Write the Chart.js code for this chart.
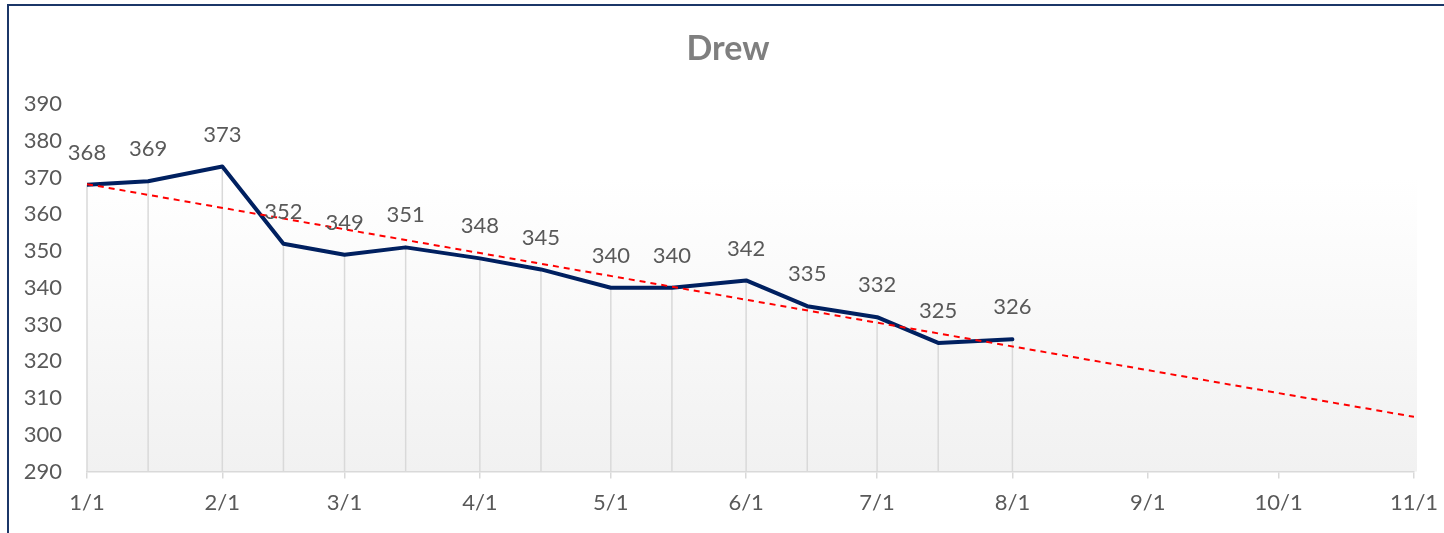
<!DOCTYPE html>
<html>
<head>
<meta charset="utf-8">
<script src="https://cdn.jsdelivr.net/npm/chart.js@4.4.1/dist/chart.umd.min.js"></script>
<style>
  html, body { margin: 0; padding: 0; background: #fff; overflow: hidden; }
  #wrap { position: relative; width: 1444px; height: 533px; }
  #frame {
    position: absolute; left: 7px; top: 4px; width: 1444px; height: 527px;
    border-top: 2px solid #1b3668; border-left: 2px solid #1b3668;
    border-bottom: 1px solid #e3e3e3; pointer-events: none;
  }
  canvas { position: absolute; left: 0; top: 0; }
</style>
</head>
<body>
<div id="wrap">
  <canvas id="weightChart" width="1444" height="533"></canvas>
  <div id="frame"></div>
</div>
<script>
// day-of-year offsets from 1/1, and the month tick labels
const monthDays = [0, 31, 59, 90, 120, 151, 181, 212, 243, 273, 304];
const monthLabels = ['1/1', '2/1', '3/1', '4/1', '5/1', '6/1', '7/1', '8/1', '9/1', '10/1', '11/1'];

// weigh-ins (1st and 15th of each month)
const pointDays = [0, 14, 31, 45, 59, 73, 90, 104, 120, 134, 151, 165, 181, 195, 212];
const weights = [368, 369, 373, 352, 349, 351, 348, 345, 340, 340, 342, 335, 332, 325, 326];

// linear trendline ends
const trendDays = [0, 304];
const trendValues = [368.2, 304.9];

const chartTitle = 'Drew';
const FONT = 'Lato, "Open Sans", sans-serif';

// title drawn by hand so it can sit off-centre like the original
const titleText = {
    id: 'titleText',
    afterDraw(chart) {
        const { ctx } = chart;
        ctx.save();
        ctx.font = 'bold 34px ' + FONT;
        ctx.fillStyle = '#7f7f7f';
        ctx.textAlign = 'center';
        ctx.textBaseline = 'middle';
        ctx.fillText(chartTitle, chart.width / 2 + 6, 49);
        ctx.restore();
    }
};

const plotBackground = {
    id: 'plotBackground',
    beforeDraw(chart) {
        const { ctx, chartArea: a } = chart;
        const g = ctx.createLinearGradient(0, a.top, 0, a.bottom);
        g.addColorStop(0, '#ffffff');
        g.addColorStop(0.2, '#ffffff');
        g.addColorStop(1, '#f1f1f1');
        ctx.save();
        ctx.fillStyle = g;
        ctx.fillRect(a.left, a.top, a.right - a.left + 3, a.bottom - a.top);
        ctx.restore();
    }
};

const dropLines = {
    id: 'dropLines',
    beforeDatasetsDraw(chart) {
        const { ctx, chartArea: a } = chart;
        const meta = chart.getDatasetMeta(0);
        ctx.save();
        ctx.strokeStyle = '#d9d9d9';
        ctx.lineWidth = 1.5;
        meta.data.forEach(pt => {
            ctx.beginPath();
            ctx.moveTo(pt.x, pt.y);
            ctx.lineTo(pt.x, a.bottom);
            ctx.stroke();
        });
        ctx.restore();
    }
};

const pointLabels = {
    id: 'pointLabels',
    afterDatasetsDraw(chart) {
        const { ctx } = chart;
        const meta = chart.getDatasetMeta(0);
        ctx.save();
        ctx.font = '22px ' + FONT;
        ctx.fillStyle = '#595959';
        ctx.textAlign = 'center';
        ctx.textBaseline = 'middle';
        meta.data.forEach((pt, i) => {
            ctx.fillText(String(weights[i]), pt.x, pt.y - 32);
        });
        ctx.restore();
    }
};

const ctx = document.getElementById('weightChart').getContext('2d');
const weightChart = new Chart(ctx, {
    type: 'line',
    data: {
        datasets: [{
            data: pointDays.map((d, i) => ({ x: d, y: weights[i] })),
            borderColor: '#002060',
            borderWidth: 4,
            borderJoinStyle: 'round',
            borderCapStyle: 'round',
            pointRadius: 0,
            tension: 0,
            order: 1
        }, {
            data: trendDays.map((d, i) => ({ x: d, y: trendValues[i] })),
            borderColor: '#ff0000',
            borderWidth: 2,
            borderDash: [6, 5],
            pointRadius: 0,
            tension: 0,
            order: 0
        }]
    },
    options: {
        responsive: false,
        animation: false,
        layout: { padding: { left: 0, right: 30, top: 104, bottom: 6 } },
        plugins: {
            legend: { display: false },
            tooltip: { enabled: false },
            title: { display: false }
        },
        scales: {
            x: {
                type: 'linear',
                min: 0,
                max: 304,
                afterBuildTicks: scale => {
                    scale.ticks = monthDays.map(v => ({ value: v }));
                },
                afterFit: scale => {
                    scale.paddingLeft = 0;
                    scale.paddingRight = 0;
                },
                ticks: {
                    autoSkip: false,
                    maxRotation: 0,
                    padding: 11,
                    color: '#595959',
                    font: { family: FONT, size: 22 },
                    callback: value => monthLabels[monthDays.indexOf(value)]
                },
                grid: {
                    drawOnChartArea: false,
                    drawTicks: true,
                    tickLength: 7,
                    color: '#d9d9d9',
                    lineWidth: 1.5
                },
                border: { color: '#d9d9d9', width: 1.5 }
            },
            y: {
                min: 290,
                max: 390,
                afterFit: scale => { scale.width = 87; },
                ticks: {
                    stepSize: 10,
                    padding: 25,
                    color: '#595959',
                    font: { family: FONT, size: 22 }
                },
                grid: { display: false, drawTicks: false },
                border: { display: false }
            }
        }
    },
    plugins: [plotBackground, dropLines, pointLabels, titleText]
});
</script>
</body>
</html>
